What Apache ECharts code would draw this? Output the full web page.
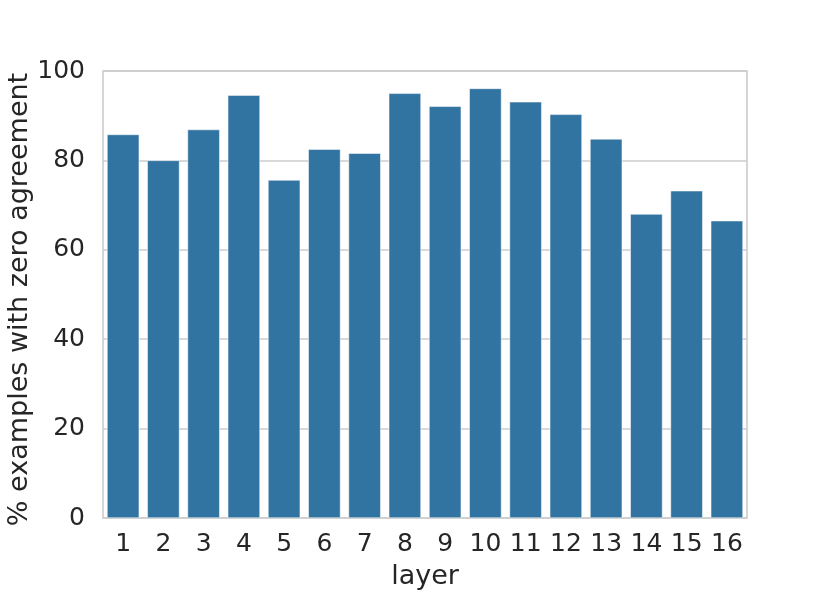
<!DOCTYPE html>
<html><head><meta charset="utf-8">
<script src="https://cdn.jsdelivr.net/npm/echarts@6/dist/echarts.min.js"></script>
<style>html,body{margin:0;padding:0;background:#fff}#c{width:830px;height:593px}</style>
</head><body><div id="c"></div>
<script>
var categories = ['1','2','3','4','5','6','7','8','9','10','11','12','13','14','15','16'];
var values = [85.8, 80.0, 86.9, 94.6, 75.6, 82.5, 81.6, 95.0, 92.1, 96.1, 93.1, 90.3, 84.8, 68.0, 73.2, 66.5];
var yTicks = [0, 20, 40, 60, 80, 100];

var chart = echarts.init(document.getElementById('c'), null, {renderer: 'canvas'});
var font = 'DejaVu Sans';
chart.setOption({
  animation: false,
  backgroundColor: '#ffffff',
  grid: {left: 103, right: 83, top: 71, bottom: 75, show: true, borderColor: '#cccccc', borderWidth: 1.6,
         containLabel: false, outerBoundsMode: 'none'},
  xAxis: {
    type: 'category', data: categories,
    name: 'layer', nameLocation: 'middle', nameGap: 45, nameMoveOverlap: false,
    nameTextStyle: {fontFamily: font, fontSize: 27, color: '#262626'},
    axisLine: {show: false}, axisTick: {show: false},
    axisLabel: {fontFamily: font, fontSize: 25, color: '#262626', margin: 14, interval: 0}
  },
  yAxis: {
    type: 'value', min: 0, max: 100, interval: 20,
    name: '% examples with zero agreement', nameLocation: 'middle', nameGap: 70, nameMoveOverlap: false,
    nameTextStyle: {fontFamily: font, fontSize: 27, color: '#262626', padding: [0, 10, 0, 0]},
    axisLine: {show: false}, axisTick: {show: false},
    axisLabel: {fontFamily: font, fontSize: 25, color: '#262626', margin: 18,
      formatter: function(v){ return yTicks.indexOf(v) >= 0 ? String(v) : ''; }},
    splitLine: {show: true, lineStyle: {color: '#cccccc', width: 1.6}}
  },
  series: [{
    type: 'bar', data: values, barCategoryGap: '20%',
    itemStyle: {color: '#3274a1', borderColor: '#ffffff', borderWidth: 0.5}
  }]
});
</script></body></html>
